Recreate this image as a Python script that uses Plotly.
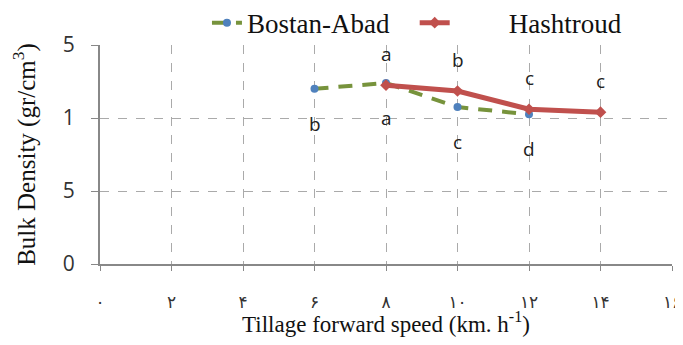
import plotly.graph_objects as go

speed_b = [6, 8, 10, 12]
density_b = [1.20, 1.24, 1.075, 1.025]
letters_b = ["b", "a", "c", "d"]

speed_h = [8, 10, 12, 14]
density_h = [1.225, 1.185, 1.06, 1.04]
letters_h = ["a", "b", "c", "c"]

x_tickvals = [0, 2, 4, 6, 8, 10, 12, 14, 16]
x_ticktext = ["۰", "۲", "۴", "۶", "۸", "۱۰", "۱۲", "۱۴", "۱۶"]
y_tickvals = [0, 0.5, 1, 1.5]
y_ticktext = ["0", "5", "1", "5"]

NB = "\u00a0"

fig = go.Figure()
fig.add_trace(go.Scatter(
    x=speed_b, y=density_b, name="Bostan-Abad" + NB * 3, mode="lines+markers",
    line=dict(color="#77933C", width=4, dash="14px,10px"),
    marker=dict(color="#4F81BD", size=8, symbol="circle"),
))
fig.add_trace(go.Scatter(
    x=speed_h, y=density_h, name=NB * 8 + "Hashtroud", mode="lines+markers",
    line=dict(color="#C0504D", width=5),
    marker=dict(color="#C0504D", size=9, symbol="diamond"),
))

for x, y, t in zip(speed_b, density_b, letters_b):
    fig.add_annotation(x=x, y=y, text=t, showarrow=False, yshift=-35,
                       font=dict(family="Open Sans", size=19, color="#222"))
for x, y, t in zip(speed_h, density_h, letters_h):
    fig.add_annotation(x=x, y=y, text=t, showarrow=False, yshift=31,
                       font=dict(family="Open Sans", size=19, color="#222"))

fig.update_layout(
    width=675, height=329,
    margin=dict(l=92, r=11, t=37, b=73, autoexpand=False),
    plot_bgcolor="white", paper_bgcolor="white",
    showlegend=True,
    legend=dict(orientation="h", x=0.187, xanchor="left", y=1.10, yanchor="middle",
                font=dict(family="Liberation Serif", size=27, color="#111"),
                itemwidth=30, tracegroupgap=0, bgcolor="rgba(0,0,0,0)"),
    xaxis=dict(
        range=[0, 16], tickvals=x_tickvals, ticktext=x_ticktext,
        showgrid=True, gridcolor="#AAAAAA", griddash="dash", gridwidth=1,
        showline=True, linecolor="#888888", linewidth=2,
        ticks="outside", ticklen=5, tickcolor="#888888",
        ticklabelstandoff=17, ticklabeloverflow="allow",
        tickfont=dict(family="DejaVu Sans", size=17, color="#333"),
        title=dict(text="Tillage forward speed (km. h<sup>-1</sup>)",
                   font=dict(family="Liberation Serif", size=23, color="#111"), standoff=6),
        zeroline=False,
    ),
    yaxis=dict(
        range=[0, 1.5], tickvals=y_tickvals, ticktext=y_ticktext,
        showgrid=True, gridcolor="#AAAAAA", griddash="dash", gridwidth=1,
        showline=True, linecolor="#888888", linewidth=2,
        ticks="outside", ticklen=7, tickcolor="#888888",
        ticklabelstandoff=12,
        tickfont=dict(family="Open Sans", size=21, color="#333"),
        title=dict(text="Bulk Density (gr/cm<sup>3</sup>)",
                   font=dict(family="Liberation Serif", size=25, color="#111"), standoff=24),
        zeroline=False,
    ),
)

fig.write_html("out.html")
